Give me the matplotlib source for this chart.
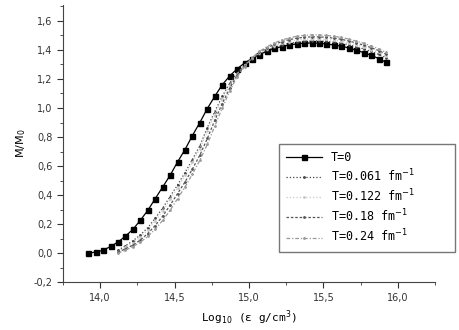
import numpy as np
import matplotlib
matplotlib.use('Agg')
from matplotlib import pyplot as plt
from matplotlib.ticker import MultipleLocator, FuncFormatter

# data
x_t0 = np.round(np.arange(13.92, 15.93, 0.05), 2)
m_t0 = [0.0, 0.007, 0.019, 0.046, 0.076, 0.117, 0.163, 0.226, 0.294, 0.375,
        0.455, 0.536, 0.628, 0.713, 0.81, 0.90, 0.996, 1.08, 1.16, 1.22,
        1.27, 1.31, 1.341, 1.368, 1.391, 1.41, 1.423, 1.434, 1.441, 1.446,
        1.448, 1.446, 1.441, 1.434, 1.426, 1.414, 1.398, 1.382, 1.363, 1.341,
        1.315]

x_t = np.round(np.arange(14.12, 15.93, 0.05), 2)
m_t061 = [0.02, 0.05, 0.085, 0.125, 0.175, 0.24, 0.31, 0.39, 0.47, 0.555,
          0.645, 0.74, 0.865, 0.975, 1.08, 1.17, 1.24, 1.295, 1.34, 1.372,
          1.397, 1.418, 1.433, 1.445, 1.453, 1.459, 1.462, 1.462, 1.459, 1.453,
          1.446, 1.436, 1.422, 1.407, 1.39, 1.37, 1.346]
m_t122 = [0.01, 0.04, 0.07, 0.11, 0.16, 0.22, 0.29, 0.37, 0.45, 0.535,
          0.625, 0.72, 0.84, 0.955, 1.06, 1.155, 1.235, 1.295, 1.343, 1.378,
          1.405, 1.428, 1.445, 1.458, 1.467, 1.473, 1.476, 1.476, 1.473, 1.467,
          1.459, 1.449, 1.435, 1.42, 1.403, 1.383, 1.358]
m_t18 = [0.005, 0.03, 0.055, 0.09, 0.135, 0.19, 0.255, 0.33, 0.41, 0.49,
         0.58, 0.675, 0.79, 0.915, 1.03, 1.135, 1.225, 1.29, 1.345, 1.385,
         1.414, 1.438, 1.457, 1.471, 1.481, 1.487, 1.49, 1.49, 1.487, 1.481,
         1.473, 1.462, 1.448, 1.433, 1.416, 1.396, 1.371]
m_t24 = [0.0, 0.02, 0.045, 0.075, 0.115, 0.165, 0.225, 0.295, 0.375, 0.455,
         0.545, 0.64, 0.75, 0.875, 1.0, 1.115, 1.215, 1.285, 1.345, 1.39,
         1.422, 1.448, 1.468, 1.483, 1.494, 1.5, 1.504, 1.504, 1.5, 1.494,
         1.486, 1.475, 1.461, 1.446, 1.428, 1.408, 1.383]

labels = ['T=0', 'T=0.061 fm$^{-1}$', 'T=0.122 fm$^{-1}$',
          'T=0.18 fm$^{-1}$', 'T=0.24 fm$^{-1}$']

fig = plt.figure(figsize=(4.59, 3.30), dpi=100)
ax = fig.add_axes([0.137, 0.145, 0.811, 0.84])

ax.plot(x_t0, m_t0, color='black', lw=0.9, marker='s', ms=3.6, label=labels[0])
ax.plot(x_t, m_t061, color='#444444', lw=0.9, ls=':', marker='.', ms=2, label=labels[1])
ax.plot(x_t, m_t122, color='#c8c8c8', lw=0.9, ls=':', marker='.', ms=2, label=labels[2])
ax.plot(x_t, m_t18, color='#555555', lw=0.9, ls=(0, (2, 1.5)), marker='.', ms=2, label=labels[3])
ax.plot(x_t, m_t24, color='#999999', lw=0.9, ls=(0, (3, 1.5, 1, 1.5)), marker='.', ms=2, label=labels[4])

ax.set_xlim(13.75, 16.25)
ax.set_ylim(-0.2, 1.71)
ax.xaxis.set_major_locator(MultipleLocator(0.5))
ax.xaxis.set_minor_locator(MultipleLocator(0.25))
ax.yaxis.set_major_locator(MultipleLocator(0.2))
ax.yaxis.set_minor_locator(MultipleLocator(0.1))
comma = FuncFormatter(lambda v, p: ('%.1f' % v).replace('.', ','))
ax.xaxis.set_major_formatter(comma)
ax.yaxis.set_major_formatter(comma)

for s in ['top', 'right']:
    ax.spines[s].set_visible(False)
for s in ['left', 'bottom']:
    ax.spines[s].set_color('#444444')
ax.tick_params(which='both', direction='out', labelsize=7, colors='#333333')
ax.tick_params(which='major', length=4)
ax.tick_params(which='minor', length=2)

ax.set_xlabel('Log$_{10}$ (ε g/cm$^3$)', fontsize=8, family='monospace')
ax.set_ylabel('M/M$_0$', fontsize=8)

leg = ax.legend(loc='upper left', bbox_to_anchor=(0.581, 0.498, 0.473, 0.0),
                mode='expand', borderaxespad=0.0, frameon=True, fancybox=False,
                edgecolor='#555555', prop={'family': 'monospace', 'size': 8.5},
                handlelength=3.0, borderpad=0.6, labelspacing=0.3)
leg.get_frame().set_linewidth(1.0)
leg.set_clip_on(False)

fig.savefig('out.png', dpi=100)
